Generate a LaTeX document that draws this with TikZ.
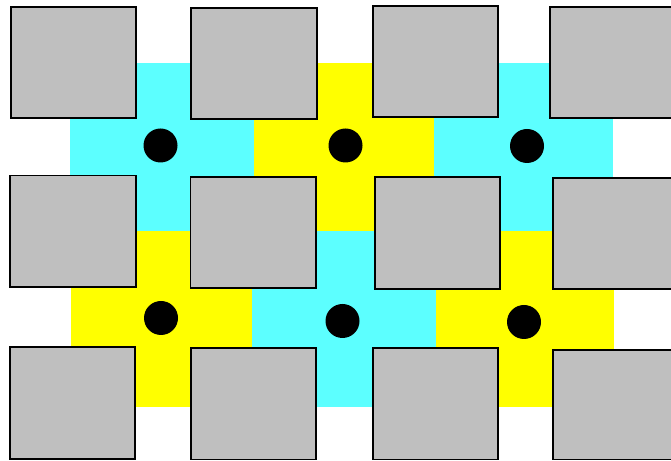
\documentclass[tikz,border=0pt]{standalone}
\definecolor{cian}{RGB}{92,255,255}
\definecolor{amarillo}{RGB}{255,255,0}
\definecolor{gris}{RGB}{191,191,191}
\begin{document}
\begin{tikzpicture}[x=0.03cm, y=-0.03cm]
        % Estilos de celdas, bloques y puntos
        \tikzset{bloque/.style={fill=gris, draw=black, line width=1.7pt},
                 punto/.style={circle, fill=black, inner sep=0pt, minimum size=1.02cm}}
        \clip (0,0) rectangle (671,461);

        % --- CELDAS DE COLOR ---
        \fill[cian]     (70,63.5)  rectangle (254,231.5);
        \fill[amarillo] (254,63.5) rectangle (434,231.5);
        \fill[cian]     (434,63.5) rectangle (613,231.5);
        \fill[amarillo] (71,231.5) rectangle (252,407);
        \fill[cian]     (252,231.5) rectangle (436,407);
        \fill[amarillo] (436,231.5) rectangle (614,407);

        % --- PUNTOS ---
        \node[punto] (p1) at (160.5,145.5) {};
        \node[punto] (p2) at (345.5,145.5) {};
        \node[punto] (p3) at (527,146) {};
        \node[punto] (p4) at (161,318) {};
        \node[punto] (p5) at (342.5,321) {};
        \node[punto] (p6) at (524,322) {};

        % --- BLOQUES GRISES ---
        % fila superior
        \draw[bloque] (11,7)     rectangle (136,118);
        \draw[bloque] (191,8)    rectangle (317,119);
        \draw[bloque] (373,6)    rectangle (498,117);
        \draw[bloque] (550,7)    rectangle (680,118);
        % fila central
        \draw[bloque] (10,175.5) rectangle (136,287);
        \draw[bloque] (190.5,177) rectangle (316,288);
        \draw[bloque] (375,177)  rectangle (500,289);
        \draw[bloque] (553,178)  rectangle (680,289);
        % fila inferior
        \draw[bloque] (10,347)   rectangle (135,459);
        \draw[bloque] (191,348)  rectangle (316,459.5);
        \draw[bloque] (373,348)  rectangle (498,459.5);
        \draw[bloque] (553,350)  rectangle (680,459.5);
\end{tikzpicture}
\end{document}
